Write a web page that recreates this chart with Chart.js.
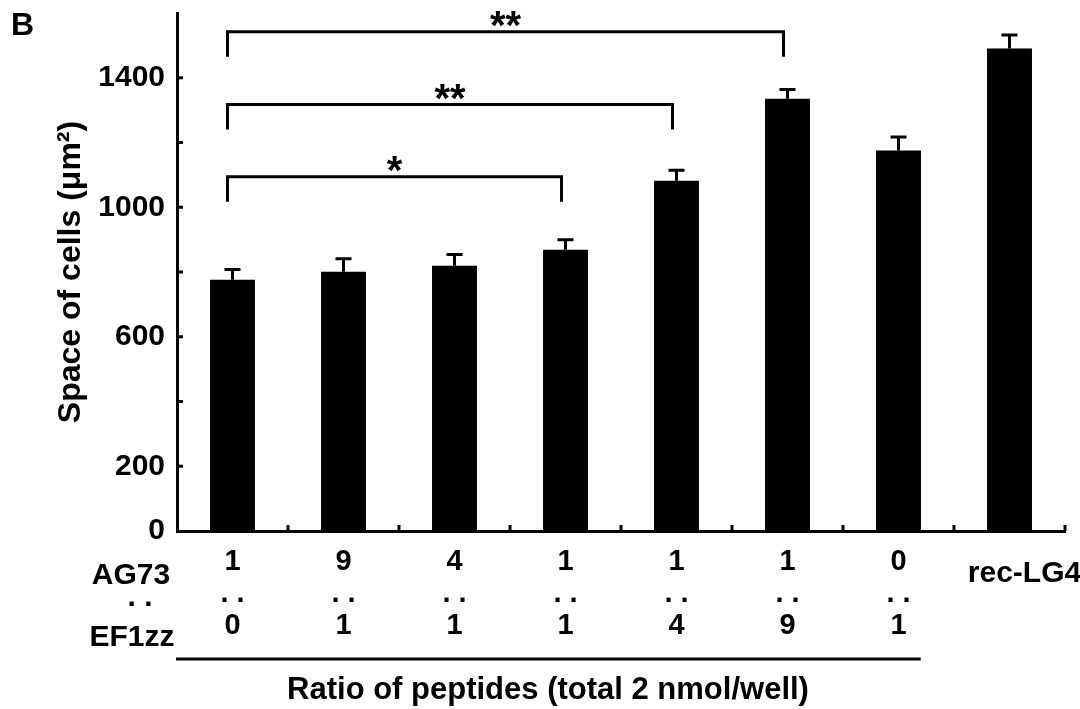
<!DOCTYPE html>
<html>
<head>
<meta charset="utf-8">
<script src="https://cdn.jsdelivr.net/npm/chart.js@4.4.0/dist/chart.umd.min.js"></script>
<style>
  html, body { margin: 0; padding: 0; background: #fff; }
  #wrap { width: 1080px; height: 709px; position: relative; }
</style>
</head>
<body>
<div id="wrap"><canvas id="myChart"></canvas></div>
<script>
// data
const agRatio = ["1", "9", "4", "1", "1", "1", "0", ""];
const efRatio = ["0", "1", "1", "1", "4", "9", "1", ""];
const extraLabel = ["", "", "", "", "", "", "", "rec-LG4"];
const cellSpace = [776, 801, 819, 869, 1082, 1335, 1175, 1490];
const cellSpaceErr = [32, 40, 35, 31, 32, 29, 42, 42];
const yTickLabels = [0, 200, 600, 1000, 1400];
const bracketFrom = [0, 0, 0];
const bracketTo = [5, 4, 3];
const bracketLevel = [1542, 1317, 1094];
const bracketMark = ["**", "**", "*"];

const fam = '"Liberation Sans", Arial, Helvetica, sans-serif';

const xLabels = agRatio.map(function (a, i) {
  return a ? [a, ". .", efRatio[i]] : "";
});

const extras = {
  id: "extras",
  afterDatasetsDraw: function (chart) {
    const ctx = chart.ctx;
    const x = chart.scales.x;
    const y = chart.scales.y;
    const area = chart.chartArea;
    ctx.save();
    ctx.strokeStyle = "#000";
    ctx.fillStyle = "#000";

    // upper error bars
    ctx.lineWidth = 3;
    cellSpace.forEach(function (v, i) {
      const cx = x.getPixelForValue(i);
      const base = y.getPixelForValue(v);
      const top = y.getPixelForValue(v + cellSpaceErr[i]);
      ctx.beginPath();
      ctx.moveTo(cx, base);
      ctx.lineTo(cx, top);
      ctx.moveTo(cx - 8, top);
      ctx.lineTo(cx + 8, top);
      ctx.stroke();
    });

    // inward tick marks
    ctx.lineWidth = 3;
    y.ticks.forEach(function (t) {
      if (t.value <= 0 || t.value >= 1600) return;
      const py = y.getPixelForValue(t.value);
      ctx.beginPath();
      ctx.moveTo(area.left, py);
      ctx.lineTo(area.left + 6, py);
      ctx.stroke();
    });
    const step = x.getPixelForValue(1) - x.getPixelForValue(0);
    for (let i = 0; i < cellSpace.length; i++) {
      const px = x.getPixelForValue(i) + step / 2;
      ctx.beginPath();
      ctx.moveTo(px, area.bottom);
      ctx.lineTo(px, area.bottom - 6);
      ctx.stroke();
    }

    // significance brackets
    ctx.lineWidth = 3;
    ctx.textAlign = "center";
    ctx.textBaseline = "alphabetic";
    ctx.font = "bold 40px " + fam;
    bracketLevel.forEach(function (lv, k) {
      const x1 = x.getPixelForValue(bracketFrom[k]) - 5;
      const x2 = x.getPixelForValue(bracketTo[k]) - 4;
      const py = y.getPixelForValue(lv);
      ctx.beginPath();
      ctx.moveTo(x1, py + 25);
      ctx.lineTo(x1, py);
      ctx.lineTo(x2, py);
      ctx.lineTo(x2, py + 25);
      ctx.stroke();
      ctx.fillText(bracketMark[k], (x1 + x2) / 2, py + 7);
    });

    // row headers, rec-LG4, bottom rule and axis caption
    ctx.font = "bold 30px " + fam;
    ctx.textBaseline = "middle";
    ctx.fillText("AG73", 131, 576);
    ctx.fillText(". .", 140, 598);
    ctx.fillText("EF1zz", 132, 638);
    extraLabel.forEach(function (s, i) {
      if (s) ctx.fillText(s, x.getPixelForValue(i) + 15, 574);
    });
    ctx.lineWidth = 3;
    ctx.beginPath();
    ctx.moveTo(176, 659);
    ctx.lineTo(x.getPixelForValue(6) + 0.2 * step, 659);
    ctx.stroke();
    ctx.font = "bold 31px " + fam;
    ctx.fillText("Ratio of peptides (total 2 nmol/well)", 548, 690);

    ctx.font = "bold 32px " + fam;
    ctx.textAlign = "left";
    ctx.fillText("B", 11, 26);
    ctx.restore();
  }
};

const ctx = document.getElementById("myChart");
const myChart = new Chart(ctx, {
  type: "bar",
  data: {
    labels: xLabels,
    datasets: [
      {
        label: "Space of cells",
        data: cellSpace,
        backgroundColor: "#000",
        borderWidth: 0,
        barPercentage: 0.405,
        categoryPercentage: 1.0,
      },
    ],
  },
  options: {
    responsive: true,
    maintainAspectRatio: false,
    animation: false,
    layout: { padding: { top: 13, right: 15, bottom: 0, left: 0 } },
    plugins: {
      legend: { display: false },
      tooltip: { enabled: false },
    },
    scales: {
      x: {
        offset: true,
        grid: { display: false, drawTicks: false },
        border: { display: true, color: "#000", width: 3 },
        ticks: {
          color: "#000",
          padding: 15,
          maxRotation: 0,
          autoSkip: false,
          font: { family: fam, size: 29, weight: "bold", lineHeight: 1.1 },
        },
        afterFit: function (scale) {
          scale.height = 178;
          scale.paddingLeft = 0;
          scale.paddingRight = 0;
        },
      },
      y: {
        min: 0,
        max: 1600,
        grid: { display: false, drawTicks: false },
        border: { display: true, color: "#000", width: 3 },
        ticks: {
          stepSize: 200,
          color: "#000",
          padding: 12,
          font: { family: fam, size: 30, weight: "bold" },
          callback: function (v) {
            return yTickLabels.indexOf(v) >= 0 ? String(v) : "";
          },
        },
        title: {
          display: true,
          text: "Space of cells (\u03bcm\u00b2)",
          color: "#000",
          font: { family: fam, size: 32, weight: "bold" },
          padding: { top: 52, bottom: 0 },
        },
        afterFit: function (scale) {
          scale.width = 177;
          scale.paddingTop = 0;
          scale.paddingBottom = 0;
        },
      },
    },
  },
  plugins: [extras],
});
</script>
</body>
</html>
